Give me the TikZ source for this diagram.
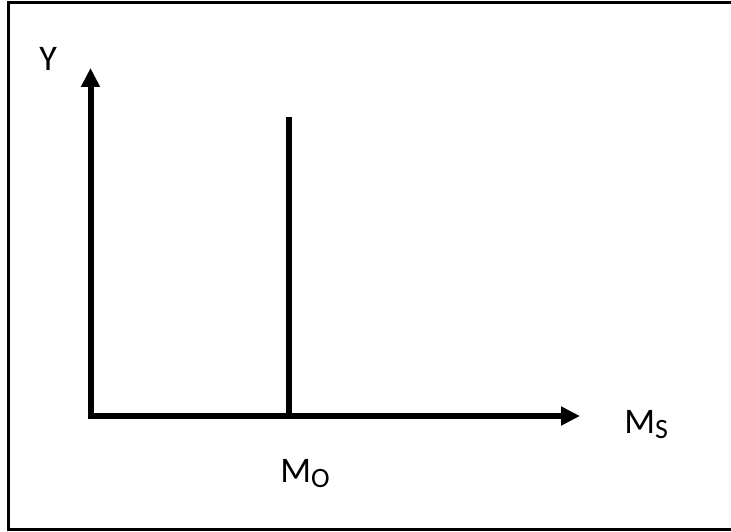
\documentclass[tikz,border=0pt]{standalone}
\usepackage{fontspec}
\setmainfont{Carlito}
\usetikzlibrary{arrows.meta}
\newcommand{\lowsub}[1]{\raisebox{-2.5pt}{\fontsize{14}{14}\selectfont #1}}

\begin{document}
\begin{tikzpicture}[x=0.5pt, y=0.5pt, font=\fontsize{18}{20}\selectfont,
  axis/.style={line width=3pt, {Triangle[length=9.5pt, width=9pt]}-{Triangle[length=9.5pt, width=9pt]}},
  lbl/.style={anchor=base west, inner sep=0pt}]
  \useasboundingbox (0,0) rectangle (731,531);
  % frame (open on the right)
  \draw[line width=1.5pt] (731,528) -- (8,528) -- (8,1.5) -- (731,1.5);
  % axes
  \coordinate (origin) at (90.5,115);
  \coordinate (ytip) at (90.5,463);
  \coordinate (xtip) at (580,115);
  \draw[axis] (ytip) -- (origin) -- (xtip);
  % vertical line at M0
  \coordinate (mbase) at (288.5,115);
  \coordinate (mtop) at (288.5,414);
  \draw[line width=3pt] (mbase) -- (mtop);
  % labels
  \node[lbl] (ylab) at (39,460) {Y};
  \node[lbl] (mslab) at (624,98) {M\lowsub{S}};
  \node[lbl] (molab) at (280,49) {M\lowsub{O}};
\end{tikzpicture}
\end{document}
